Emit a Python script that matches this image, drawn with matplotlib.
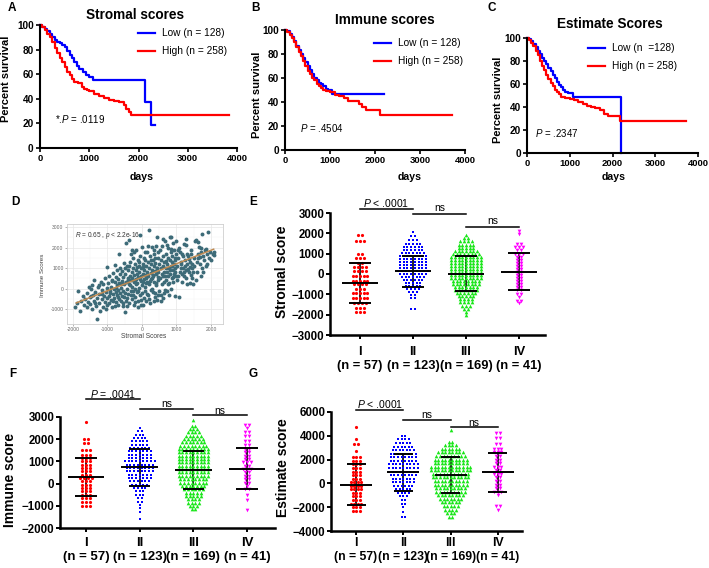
import numpy as np
import matplotlib.pyplot as plt
from matplotlib.lines import Line2D
from matplotlib.transforms import blended_transform_factory

plt.rcParams['font.family'] = ['Liberation Sans', 'DejaVu Sans']
plt.rcParams['mathtext.fontset'] = 'custom'
plt.rcParams['mathtext.rm'] = 'Liberation Sans'
plt.rcParams['mathtext.it'] = 'Liberation Sans:italic'

# ---- Kaplan-Meier curves (days, percent survival) ----
a_low_t = [0, 50, 100, 150, 200, 250, 300, 350, 400, 450, 500, 550, 600, 650, 700, 750, 800, 870, 930, 1000, 1080, 2130, 2260, 2330]
a_low_s = [100, 98, 97, 95, 93, 90, 88, 86, 85, 84, 82, 79, 76, 73, 70, 67, 64, 62, 59, 58, 55, 37, 19, 19]
a_high_t = [0, 50, 100, 150, 200, 250, 300, 350, 400, 450, 500, 550, 600, 650, 700, 780, 850, 900, 950, 1000, 1100, 1200, 1300, 1400, 1500, 1600, 1700, 1750, 1800, 1850, 3830]
a_high_s = [100, 98, 96, 93, 90, 86, 81, 77, 73, 70, 66, 62, 59, 56, 54, 53, 50, 48, 47, 46, 44, 42, 41, 39, 38, 37, 35, 32, 29, 27, 27]

b_low_t = [0, 50, 100, 150, 200, 250, 300, 350, 400, 450, 500, 550, 600, 650, 700, 750, 800, 850, 900, 950, 1050, 2200]
b_low_s = [100, 99, 97, 94, 91, 87, 83, 80, 77, 73, 70, 67, 63, 60, 58, 56, 55, 53, 51, 50, 47, 47]
b_high_t = [0, 50, 100, 150, 200, 250, 300, 350, 400, 450, 500, 550, 600, 650, 700, 750, 800, 850, 900, 1000, 1100, 1200, 1300, 1400, 1650, 1700, 1800, 2100, 3710]
b_high_s = [100, 98, 96, 93, 90, 86, 82, 78, 74, 70, 66, 63, 60, 58, 55, 53, 52, 50, 49, 48, 46, 45, 43, 41, 38, 36, 33, 29, 29]

c_low_t = [0, 50, 100, 150, 200, 250, 300, 350, 400, 450, 500, 550, 600, 650, 700, 750, 800, 850, 900, 950, 1000, 1070, 2200, 2205]
c_low_s = [100, 99, 97, 95, 92, 89, 86, 83, 80, 77, 74, 71, 68, 65, 62, 59, 57, 55, 53, 52, 52, 49, 0, 0]
c_high_t = [0, 50, 100, 150, 200, 250, 300, 350, 400, 450, 500, 550, 600, 650, 700, 750, 800, 900, 1000, 1100, 1200, 1300, 1400, 1500, 1600, 1700, 1800, 1900, 2180, 3710]
c_high_s = [100, 98, 96, 93, 89, 85, 80, 76, 72, 68, 64, 61, 58, 55, 53, 51, 49, 48, 47, 46, 44, 43, 41, 40, 39, 37, 34, 32, 28, 28]

# ---- D: stromal vs immune scores ----
d_points = [
    (-1950, -900), (-1880, -700), (-1850, -100), (-1800, -1100), (-1750, -600), (-1720, -350), (-1680, -800),
    (-1650, -500), (-1600, -900), (-1580, -200), (-1550, -650), (-1530, 100), (-1500, -750), (-1500, -400),
    (-1480, 0), (-1450, -1000), (-1420, -300), (-1400, -600), (-1380, 400), (-1350, -150), (-1330, -850),
    (-1300, -450), (-1290, -1500), (-1270, 100), (-1250, -700), (-1230, -250), (-1200, -1100), (-1190, 300),
    (-1170, -500), (-1150, -50), (-1130, -900), (-1120, 200), (-1100, -350), (-1080, -650), (-1060, 500),
    (-1050, -150), (-1030, -1000), (-1020, 50), (-1010, -450), (-1000, 1050), (-1000, -800), (-1480, -350),
    (-1360, -700), (-1240, 150), (-1160, -250), (-1440, 150),
    (-980, 250), (-960, -350), (-950, -700), (-940, 600), (-920, -100), (-900, 100), (-890, -550), (-870, -900),
    (-860, 400), (-850, -250), (-830, 750), (-820, 0), (-800, -450), (-790, -850), (-780, 300), (-770, 1150),
    (-760, -150), (-750, 550), (-740, -650), (-730, 150), (-720, -300), (-710, 900), (-700, -800), (-690, 450),
    (-680, -50), (-670, 1700), (-660, 250), (-650, -500), (-640, 700), (-630, -200), (-620, 1000), (-610, 50),
    (-600, -600), (-590, 350), (-580, -350), (-570, 850), (-560, -100), (-550, 550), (-540, -700), (-530, 200),
    (-520, 1250), (-510, -400), (-500, -1150), (-880, 350), (-840, -600), (-760, 50), (-690, -400), (-600, 200),
    (-560, -850), (-930, -200),
    (-490, 700), (-480, -200), (-470, 300), (-460, 2200), (-450, -600), (-440, 1100), (-430, 0), (-420, -450),
    (-410, 500), (-400, 900), (-390, -250), (-380, 2350), (-370, 200), (-360, -700), (-350, 1300), (-340, 600),
    (-330, -100), (-320, 400), (-310, 1700), (-300, -500), (-290, 800), (-280, 100), (-270, 1000), (-260, -300),
    (-250, 1500), (-240, 300), (-230, -800), (-220, 650), (-210, 1200), (-200, 0), (-190, -400), (-180, 900),
    (-170, 450), (-160, 1900), (-150, -150), (-140, 700), (-130, 250), (-120, 1400), (-110, -600), (-100, 550),
    (-90, 1100), (-80, 50), (-70, 800), (-60, -300), (-50, 1600), (-45, 2590), (-40, 350), (-30, -550),
    (-20, 1000), (-10, 150), (-480, 1000), (-440, -850), (-400, 400), (-360, 1100), (-320, -300), (-280, 500),
    (-240, 1800), (-200, -650), (-160, 200), (-120, -100), (-80, 1300), (-40, 600), (-20, -800), (-300, 1900),
    (-250, -100), (-150, 1050), (-100, -900), (-60, 450), (-350, 150), (-210, 400),
    (0, 2030), (10, -200), (20, 700), (30, 1200), (40, 300), (50, -450), (60, 900), (70, 1500), (80, 100),
    (90, 1800), (100, -100), (110, 500), (120, 1100), (130, -600), (140, 1780), (150, 300), (160, 800),
    (170, 1300), (180, -300), (190, 600), (200, 1000), (210, 2840), (220, 200), (230, 1600), (240, -700),
    (250, 750), (260, 1200), (270, 450), (280, 2030), (290, 0), (300, 900), (310, 1400), (320, -150), (330, 600),
    (340, 1100), (350, 300), (360, 1700), (370, -400), (380, 850), (390, 1250), (400, 150), (410, 2100),
    (420, 700), (430, 2510), (440, -550), (450, 1000), (460, 400), (470, 1500), (480, 800), (490, -100),
    (500, 1200), (30, -800), (60, 450), (100, 1400), (150, -250), (190, 2100), (230, 350), (270, -50), (310, 650),
    (350, 1900), (390, -200), (430, 1000), (470, 550), (20, 1050), (80, 650), (130, 250), (200, -500), (250, 1400),
    (300, 500), (340, -600), (380, 1500), (420, 250), (460, 1800), (480, -300),
    (520, 1860), (530, 500), (540, 1000), (550, -300), (560, 1400), (570, 700), (580, 2100), (590, 200),
    (600, 1100), (610, -450), (620, 1600), (630, 800), (640, 300), (650, 1300), (660, 2300), (670, 600),
    (680, -50), (690, 1000), (700, 1700), (710, 400), (714, 2110), (720, 1200), (730, -100), (740, 800),
    (750, 1500), (760, 2000), (770, 600), (780, 1000), (790, 250), (800, 1400), (810, 2510), (820, 700),
    (830, 1800), (840, 1100), (850, 0), (857, 2510), (860, 1300), (870, 500), (880, 1600), (890, 900),
    (900, 2200), (910, 300), (920, 1200), (930, 700), (940, 1900), (950, 1000), (960, -350), (970, 1400),
    (980, 600), (990, 1700), (1000, 2320), (540, -600), (600, 600), (650, -200), (700, 1350), (750, 200),
    (800, 900), (850, 1950), (900, 550), (950, 1500), (620, 2400), (780, -300), (880, 1100), (960, 800),
    (1020, 1100), (1040, 600), (1060, 1500), (1080, 2000), (1095, 1780), (1110, 800), (1130, 1300), (1150, 300),
    (1170, 1700), (1190, 1000), (1210, 2150), (1230, 600), (1250, 1400), (1270, 900), (1286, 2430),
    (1290, 2110), (1300, 1200), (1320, 200), (1340, 1600), (1360, 800), (1380, 1300), (1400, 1050),
    (1420, 1900), (1429, 1700), (1440, 500), (1460, 1200), (1480, 800), (1500, 1500), (1030, 400), (1070, -400),
    (1120, 1200), (1160, 700), (1200, 1600), (1240, 1100), (1280, 500), (1330, 950), (1370, 1450), (1410, 650),
    (1450, 1000), (1490, 200), (1050, 1900), (1140, 1000), (1220, 800), (1310, 1700), (1390, 250),
    (1520, 1100), (1540, 2300), (1571, 2350), (1590, 800), (1619, 2270), (1640, 1500), (1667, 2030),
    (1680, 1200), (1700, 600), (1720, 1800), (1733, 2640), (1750, 1000), (1780, 1600), (1800, 1400),
    (1830, 1900), (1857, 1950), (1880, 1200), (1900, 1700), (1924, 2750), (1950, 1500), (1980, 1800),
    (2000, 1400), (2048, 1700), (2095, 1780), (2080, 1650), (1560, 400), (1610, 1300), (1700, 2000),
    (1770, 800), (1850, 1100), (1620, 1700), (1690, 1550),
]
d_fit_x = [-1900, 2080]
d_fit_y = [-700, 1920]

# ---- E/F/G: scores by stage, rows of dots as (score, count) ----
stages = ['I', 'II', 'III', 'IV']
stage_n = [57, 123, 169, 41]

e_rows = [
    [(1930, 2), (1640, 3), (970, 2), (800, 3), (540, 2), (330, 4), (130, 4), (-110, 5), (-360, 5), (-490, 4),
     (-720, 3), (-930, 5), (-1180, 5), (-1430, 4), (-1670, 3), (-1870, 3)],
    [(2050, 1), (1850, 2), (1650, 3), (1500, 5), (1350, 6), (1200, 6), (1050, 7), (900, 8), (750, 8), (600, 8),
     (450, 8), (300, 8), (150, 9), (0, 8), (-150, 7), (-300, 6), (-450, 5), (-600, 5), (-750, 4), (-900, 3),
     (-1050, 2), (-1200, 2), (-1700, 2)],
    [(1900, 1), (1750, 2), (1600, 4), (1450, 5), (1300, 5), (1150, 7), (1000, 8), (850, 9), (700, 9), (550, 9),
     (400, 9), (250, 9), (100, 9), (-50, 9), (-200, 9), (-350, 8), (-500, 8), (-650, 7), (-800, 7), (-950, 6),
     (-1100, 5), (-1250, 4), (-1400, 4), (-1550, 3), (-1700, 2), (-1850, 1), (-2000, 1)],
    [(2100, 1), (1950, 1), (1500, 2), (1350, 3), (1200, 2), (1000, 3), (850, 2), (700, 2), (550, 2), (400, 2),
     (250, 2), (100, 2), (-50, 2), (-200, 2), (-350, 2), (-500, 2), (-650, 2), (-800, 2), (-1000, 2), (-1150, 1),
     (-1350, 2), (-1450, 1)],
]
e_mid = [-450, 150, 0, 110]
e_lo = [-1420, -650, -820, -790]
e_hi = [520, 900, 870, 1030]

f_rows = [
    [(2750, 1), (2000, 2), (1800, 2), (1500, 3), (1300, 3), (1150, 3), (1000, 3), (850, 3), (700, 3), (550, 3),
     (400, 3), (250, 4), (100, 3), (-50, 3), (-200, 3), (-350, 3), (-500, 3), (-650, 3), (-800, 3), (-1000, 3)],
    [(2500, 1), (2350, 2), (2200, 3), (2050, 4), (1900, 5), (1750, 5), (1600, 6), (1450, 7), (1300, 7),
     (1150, 7), (1000, 9), (850, 8), (700, 8), (550, 8), (400, 7), (250, 7), (100, 6), (-50, 5), (-200, 4),
     (-350, 3), (-500, 3), (-650, 2), (-800, 2), (-950, 1), (-1100, 1), (-1250, 1), (-1600, 1)],
    [(2850, 1), (2600, 2), (2450, 3), (2300, 4), (2150, 5), (2000, 6), (1850, 7), (1700, 8), (1550, 9),
     (1400, 9), (1250, 9), (1100, 9), (950, 9), (800, 9), (650, 9), (500, 9), (350, 9), (200, 8), (50, 8),
     (-100, 7), (-250, 6), (-400, 5), (-550, 5), (-700, 4), (-850, 4), (-1000, 3), (-1150, 2)],
    [(2650, 2), (2500, 1), (2300, 2), (2150, 2), (1900, 2), (1750, 2), (1550, 2), (1400, 2), (1250, 2),
     (1100, 2), (950, 3), (800, 2), (650, 3), (500, 2), (350, 2), (200, 2), (50, 2), (-100, 1), (-250, 2),
     (-500, 1), (-750, 1), (-1200, 1)],
]
f_mid = [300, 730, 610, 670]
f_lo = [-570, -100, -250, -220]
f_hi = [1150, 1550, 1480, 1580]

g_rows = [
    [(4700, 1), (3700, 1), (3300, 2), (2700, 1), (2200, 3), (1900, 3), (1600, 3), (1300, 3), (1000, 3), (700, 3),
     (400, 3), (100, 4), (-200, 4), (-500, 4), (-800, 3), (-1100, 3), (-1400, 3), (-1700, 4), (-2000, 3),
     (-2300, 3)],
    [(4000, 2), (3700, 4), (3400, 5), (3100, 6), (2800, 7), (2500, 8), (2200, 8), (1900, 8), (1600, 9),
     (1300, 9), (1000, 9), (700, 8), (400, 7), (100, 7), (-200, 6), (-500, 5), (-800, 4), (-1100, 3),
     (-1400, 2), (-1700, 2), (-2000, 1), (-2400, 1), (-2800, 2)],
    [(4500, 1), (3500, 2), (3200, 4), (2900, 6), (2600, 8), (2300, 9), (2000, 10), (1700, 10), (1400, 12),
     (1100, 12), (800, 11), (500, 11), (200, 10), (-100, 10), (-400, 9), (-700, 9), (-1000, 8), (-1300, 7),
     (-1600, 6), (-1900, 5), (-2200, 4), (-2500, 3), (-2800, 2)],
    [(4200, 2), (3800, 2), (3300, 2), (2900, 3), (2600, 3), (2300, 2), (2000, 2), (1700, 2), (1400, 3),
     (1100, 2), (800, 3), (500, 2), (200, 2), (-100, 2), (-400, 2), (-700, 3), (-1000, 1), (-1900, 2),
     (-2200, 1)],
]
g_mid = [-100, 950, 730, 930]
g_lo = [-1800, -600, -780, -700]
g_hi = [1600, 2450, 2190, 2580]

W, H = 709, 568
fig = plt.figure(figsize=(7.09, 5.68), dpi=100)


def rect(l, t, r, b):
    return [l / W, 1 - b / H, (r - l) / W, (b - t) / H]


def ftext(x, y, s, **kw):
    fig.text(x / W, 1 - y / H, s, **kw)


def fline(x1, x2, y, **kw):
    fig.add_artist(Line2D([x1 / W, x2 / W], [1 - y / H] * 2, transform=fig.transFigure, **kw))


def km_panel(r, low_t, low_s, high_t, high_s):
    ax = fig.add_axes(rect(*r))
    ax.step(low_t, low_s, where='post', color='#0000ff', lw=1.6, clip_on=False)
    ax.step(high_t, high_s, where='post', color='#ff0000', lw=1.6, clip_on=False)
    ax.set_xlim(0, 4000)
    ax.set_ylim(0, 100)
    ax.set_xticks([0, 1000, 2000, 3000, 4000])
    ax.set_yticks([0, 20, 40, 60, 80, 100])
    for sp in ['top', 'right']:
        ax.spines[sp].set_visible(False)
    for sp in ['left', 'bottom']:
        ax.spines[sp].set_linewidth(1.5)
    ax.tick_params(direction='out', length=3, width=1.2, pad=1.5)
    ax.tick_params(axis='x', labelsize=6.8)
    ax.tick_params(axis='y', labelsize=7.2)
    for lab in ax.get_xticklabels() + ax.get_yticklabels():
        lab.set_fontweight('bold')
    return ax


km_panel((40, 25, 237, 148), a_low_t, a_low_s, a_high_t, a_high_s)
km_panel((285, 30, 465, 150), b_low_t, b_low_s, b_high_t, b_high_s)
km_panel((527, 38, 698, 153), c_low_t, c_low_s, c_high_t, c_high_s)

km_text = [
    ('Stromal scores', 135, 15, 142, 6, 79, 55, 119, r'*.$\mathit{P}$ = .0119', 138, 33, 'Low (n = 128)'),
    ('Immune scores', 385, 20, 410, 257, 95, 300, 128, r'$\mathit{P}$ = .4504', 374, 43, 'Low (n = 128)'),
    ('Estimate Scores', 610, 24, 614, 498, 100, 535, 133, r'$\mathit{P}$ = .2347', 588, 48, 'Low (n  =128)'),
]
for title, tx, ty, dx_, yx, yy, px, py, ptxt, lx, ly, low_lab in km_text:
    ftext(tx, ty, title, ha='center', va='center', fontsize=9.8, fontweight='bold')
    ftext(dx_, 177, 'days', ha='center', va='center', fontsize=7.6, fontweight='bold')
    ftext(yx, yy, 'Percent survival', ha='center', va='center', rotation=90, fontsize=8, fontweight='bold')
    ftext(px, py, ptxt, ha='left', va='center', fontsize=7)
    fline(lx, lx + 17, ly, color='#0000ff', lw=1.6)
    fline(lx, lx + 17, ly + 18, color='#ff0000', lw=1.6)
    ftext(lx + 24, ly, low_lab, ha='left', va='center', fontsize=7.3)
    ftext(lx + 24, ly + 18, 'High (n = 258)', ha='left', va='center', fontsize=7.3)

# ---- D ----
axd = fig.add_axes(rect(67, 224, 223, 324))
d_x = [p[0] for p in d_points]
d_y = [p[1] for p in d_points]
axd.scatter(d_x, d_y, s=8, color='#3d6b78', lw=0, zorder=3)
axd.plot(d_fit_x, d_fit_y, color='#bf8a52', lw=1.1, zorder=4)
axd.set_xlim(-2170, 2350)
axd.set_ylim(-1730, 3150)
xt = [-2000, -1000, 0, 1000, 2000]
yt = [-1000, 0, 1000, 2000, 3000]
axd.set_xticks(xt, labels=[str(v) for v in xt])
axd.set_yticks(yt, labels=[str(v) for v in yt])
axd.set_xticks([-1500, -500, 500, 1500], minor=True)
axd.set_yticks([-500, 500, 1500, 2500], minor=True)
axd.grid(which='major', color='#e6e6e6', lw=0.5)
axd.grid(which='minor', color='#f3f3f3', lw=0.3)
axd.set_axisbelow(True)
for sp in axd.spines.values():
    sp.set_color('#cfcfcf')
    sp.set_linewidth(0.6)
axd.tick_params(which='major', length=1.5, width=0.4, color='#777777', labelsize=3.6, labelcolor='#666666', pad=1)
axd.tick_params(which='minor', length=0)
axd.text(-1950, 2600, r'$\mathit{R}$ = 0.65 , $\mathit{p}$ < 2.2e-16', fontsize=4.7, color='#333333',
         ha='left', va='center')
ftext(144, 336, 'Stromal Scores', ha='center', va='center', fontsize=4.8, color='#444444')
ftext(43, 275, 'Immune Scores', ha='center', va='center', rotation=90, fontsize=4.5, color='#444444')

# ---- E / F / G ----
colors = ['#ff0000', '#0000ff', '#19e619', '#ff00ff']
markers = ['o', 's', '^', 'v']
msize = [5.2, 4.6, 7, 7]


def dot_panel(r, xlim, ylim, yticks, rows, mid, lo, hi, dx, brackets, lab_y, lab_fs):
    ax = fig.add_axes(rect(*r))
    for i, grp in enumerate(rows):
        xs, ys = [], []
        for v, n in grp:
            for k in range(n):
                xs.append(i + (k - (n - 1) / 2) * dx)
                ys.append(v)
        ax.scatter(xs, ys, s=msize[i], marker=markers[i], color=colors[i], lw=0, zorder=3, clip_on=False)
        ax.vlines(i, lo[i], hi[i], color='black', lw=1.2, zorder=2)
        ax.hlines(mid[i], i - 0.34, i + 0.34, color='black', lw=1.4, zorder=4)
        ax.hlines([lo[i], hi[i]], i - 0.2, i + 0.2, color='black', lw=1.4, zorder=4)
    ax.set_xlim(*xlim)
    ax.set_ylim(*ylim)
    ax.set_yticks(yticks)
    ax.set_xticks(range(4), labels=['', '', '', ''])
    for sp in ['top', 'right']:
        ax.spines[sp].set_visible(False)
    for sp in ['left', 'bottom']:
        ax.spines[sp].set_linewidth(1.8)
    ax.tick_params(direction='out', length=3, width=1.4, labelsize=8.3, pad=1)
    for lab in ax.get_yticklabels():
        lab.set_fontweight('bold')
    for x1, x2, y, txt, off in brackets:
        ax.plot([x1, x2], [y, y], color='black', lw=1.1, clip_on=False)
        ax.annotate(txt, xy=((x1 + x2) / 2, y), xytext=(0, off), textcoords='offset points',
                    ha='center', va='center', fontsize=7.5, annotation_clip=False)
    tr = blended_transform_factory(ax.transData, fig.transFigure)
    for i in range(4):
        ax.text(i, 1 - lab_y / H, stages[i], transform=tr, ha='center', va='center', fontsize=lab_fs,
                fontweight='bold')
        ax.text(i, 1 - (lab_y + 14) / H, '(n = %d)' % stage_n[i], transform=tr, ha='center', va='center',
                fontsize=lab_fs, fontweight='bold')
    return ax


dot_panel((330, 213, 545, 335), (-0.566, 3.49), (-3000, 3000), range(-3000, 3001, 1000),
          e_rows, e_mid, e_lo, e_hi, 0.07,
          [(0, 1, 3200, r'$\mathit{P}$ < .0001', 4.5), (1, 2, 2950, 'ns', 4), (2, 3, 2310, 'ns', 4)], 352, 9.3)
dot_panel((60, 416.7, 275, 528.3), (-0.484, 3.52), (-2000, 3000), range(-2000, 3001, 1000),
          f_rows, f_mid, f_lo, f_hi, 0.069,
          [(0, 1, 3790, r'$\mathit{P}$ = .0041', 4), (1, 2, 3345, 'ns', 3.5), (2, 3, 3075, 'ns', 3)], 543, 9.5)
dot_panel((331, 412, 522, 531), (-0.53, 3.51), (-4000, 6000), range(-4000, 6001, 2000),
          g_rows, g_mid, g_lo, g_hi, 0.075,
          [(0, 1, 6170, r'$\mathit{P}$ < .0001', 4), (1, 2, 5330, 'ns', 3.5), (2, 3, 4740, 'ns', 3)], 543, 8.8)

ftext(282, 272, 'Stromal score', ha='center', va='center', rotation=90, fontsize=10, fontweight='bold')
ftext(10, 480, 'Immune score', ha='center', va='center', rotation=90, fontsize=10, fontweight='bold')
ftext(283, 468, 'Estimate score', ha='center', va='center', rotation=90, fontsize=10, fontweight='bold')

for letter, x, y in [('A', 12, 8), ('B', 256, 8), ('C', 492, 8), ('D', 15, 202), ('E', 253, 202),
                     ('F', 13, 374), ('G', 253, 374)]:
    ftext(x, y, letter, ha='center', va='center', fontsize=8.5, fontweight='bold')

fig.savefig('out.png', dpi=100)
